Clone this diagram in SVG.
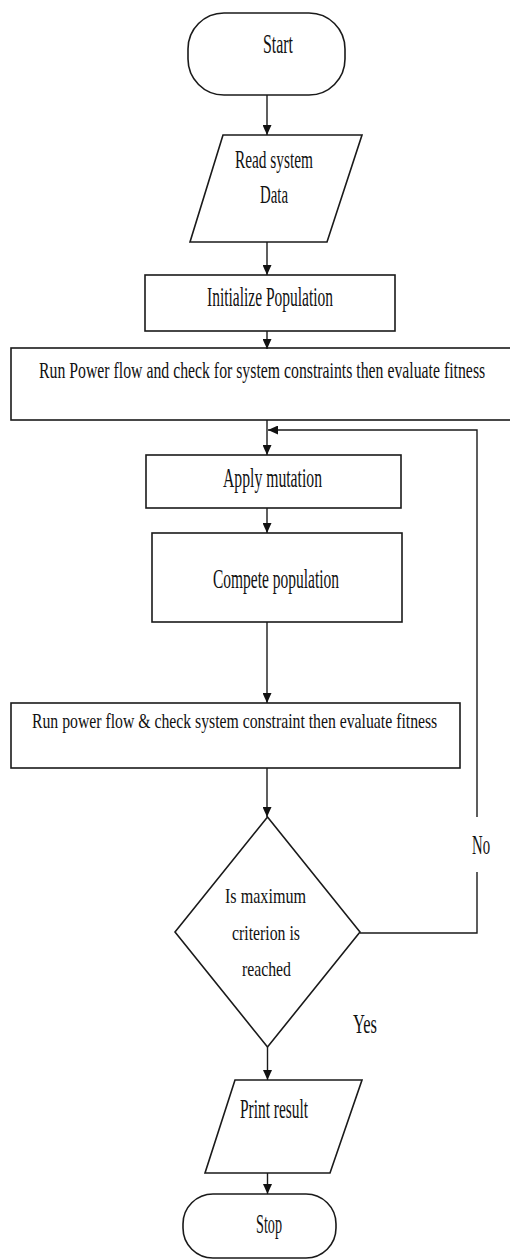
<svg xmlns="http://www.w3.org/2000/svg" width="510" height="1259" viewBox="0 0 510 1259">
<style>
.s{fill:#fff;stroke:#1a1a1a;stroke-width:1.6}
.c{fill:none;stroke:#1a1a1a;stroke-width:1.4}
text{font-family:"Liberation Serif","Times New Roman",serif;fill:#111}
</style>
<defs>
<marker id="ah" markerUnits="userSpaceOnUse" markerWidth="10" markerHeight="9" refX="10" refY="4.5" orient="auto">
<path d="M0,0 L10,4.5 L0,9 z" fill="#111"/>
</marker>
</defs>
<rect width="510" height="1259" fill="#fff"/>
<g id="start">
<rect class="s" x="188" y="13" width="157" height="82" rx="36" ry="36"/>
<text x="263" y="53" font-size="28" textLength="30" lengthAdjust="spacingAndGlyphs">Start</text>
</g>
<g id="read">
<polygon class="s" points="223,135 362,135 327,242 190,242"/>
<text x="235" y="168" font-size="25" textLength="78" lengthAdjust="spacingAndGlyphs">Read system</text>
<text x="260" y="203" font-size="25" textLength="28" lengthAdjust="spacingAndGlyphs">Data</text>
</g>
<g id="init">
<rect class="s" x="145" y="275" width="250" height="56"/>
<text x="207" y="306" font-size="27" textLength="126" lengthAdjust="spacingAndGlyphs">Initialize Population</text>
</g>
<g id="run1">
<rect class="s" x="11" y="348" width="505" height="72"/>
<text transform="translate(39,378) scale(0.66,1)" x="0" y="0" font-size="24" textLength="676" lengthAdjust="spacingAndGlyphs">Run Power flow and check for system constraints then evaluate fitness</text>
</g>
<g id="mutation">
<rect class="s" x="146" y="455" width="255" height="53"/>
<text x="223" y="487" font-size="27" textLength="99" lengthAdjust="spacingAndGlyphs">Apply mutation</text>
</g>
<g id="compete">
<rect class="s" x="152" y="533" width="250" height="89"/>
<text x="213" y="588" font-size="27" textLength="126" lengthAdjust="spacingAndGlyphs">Compete population</text>
</g>
<g id="run2">
<rect class="s" x="11" y="703" width="449" height="65"/>
<text transform="translate(32,728) scale(0.66,1)" x="0" y="0" font-size="21" textLength="614" lengthAdjust="spacingAndGlyphs">Run power flow &amp; check system constraint then evaluate fitness</text>
</g>
<g id="decision">
<polygon class="s" points="267.5,817 360,932 267.5,1047 175,932"/>
<text x="225" y="903" font-size="21" textLength="81" lengthAdjust="spacingAndGlyphs">Is maximum</text>
<text x="232" y="940" font-size="21" textLength="68" lengthAdjust="spacingAndGlyphs">criterion is</text>
<text x="242" y="976" font-size="21" textLength="49" lengthAdjust="spacingAndGlyphs">reached</text>
</g>
<g id="print">
<polygon class="s" points="235,1080 362,1080 330,1173 205,1173"/>
<text x="240" y="1118" font-size="28" textLength="68" lengthAdjust="spacingAndGlyphs">Print result</text>
</g>
<g id="stop">
<rect class="s" x="183" y="1194" width="153" height="64" rx="30" ry="30"/>
<text x="256" y="1233" font-size="28" textLength="26" lengthAdjust="spacingAndGlyphs">Stop</text>
</g>
<g id="connectors">
<line class="c" x1="267" y1="95" x2="267" y2="135" marker-end="url(#ah)"/>
<line class="c" x1="267" y1="242" x2="267" y2="275" marker-end="url(#ah)"/>
<line class="c" x1="267" y1="331" x2="267" y2="349" marker-end="url(#ah)"/>
<line class="c" x1="267" y1="420" x2="267" y2="455" marker-end="url(#ah)"/>
<line class="c" x1="267" y1="508" x2="267" y2="533" marker-end="url(#ah)"/>
<line class="c" x1="267" y1="622" x2="267" y2="703" marker-end="url(#ah)"/>
<line class="c" x1="267" y1="768" x2="267" y2="817" marker-end="url(#ah)"/>
<line class="c" x1="267.5" y1="1047" x2="267.5" y2="1080" marker-end="url(#ah)"/>
<line class="c" x1="267.5" y1="1173" x2="267.5" y2="1194" marker-end="url(#ah)"/>
<path class="c" d="M360,933 H477 V872"/>
<path class="c" d="M477,817 V430 H268" marker-end="url(#ah)"/>
<text x="472" y="854" font-size="27" textLength="18" lengthAdjust="spacingAndGlyphs">No</text>
<text x="353" y="1033" font-size="27" textLength="24" lengthAdjust="spacingAndGlyphs">Yes</text>
</g>
</svg>
